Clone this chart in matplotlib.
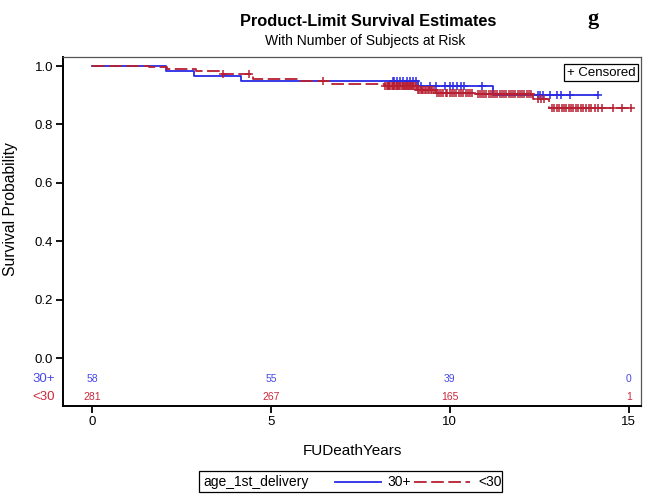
import numpy as np
import matplotlib
matplotlib.use('Agg')
import matplotlib.pyplot as plt
from matplotlib.lines import Line2D
from matplotlib.patches import Rectangle

plt.rcParams.update({'font.family': ['Liberation Sans', 'DejaVu Sans']})

# Kaplan-Meier step curves (time in years, survival)
old_t = [0.0, 2.07, 2.85, 4.16, 9.10, 11.20]
old_s = [1.0, 0.983, 0.966, 0.948, 0.930, 0.900]
old_end = 14.13
old_cens = [8.41, 8.45, 8.52, 8.60, 8.70, 8.80, 8.88, 8.97, 9.05,
            9.20, 9.44, 9.60, 9.86, 10.00, 10.10, 10.20, 10.30, 10.40, 10.90,
            12.46, 12.51, 12.60, 12.80, 12.99, 13.10, 13.35, 14.13]

young_t = [0.0, 1.60, 2.10, 2.90, 3.60, 4.50, 5.80, 6.70, 8.20, 9.07, 9.60,
           10.74, 12.33, 12.77]
young_s = [1.0, 0.996, 0.990, 0.983, 0.974, 0.954, 0.948, 0.938, 0.930, 0.917,
           0.909, 0.903, 0.886, 0.858]
young_end = 15.07
young_cens = [3.65, 4.40, 6.45,
              8.20, 8.23, 8.26, 8.29, 8.31, 8.34, 8.37, 8.40, 8.42, 8.45, 8.48,
              8.51, 8.53, 8.56, 8.59, 8.62, 8.65, 8.68, 8.71, 8.74, 8.77, 8.80,
              8.83, 8.86, 8.89, 8.92, 8.95, 8.98, 9.01, 9.04,
              9.10, 9.14, 9.18, 9.22, 9.26, 9.30, 9.34, 9.38, 9.42, 9.46, 9.50, 9.55,
              9.65, 9.70, 9.76, 9.82, 9.88, 9.93, 9.99, 10.05, 10.12, 10.18, 10.25,
              10.31, 10.38, 10.44, 10.50, 10.57, 10.63,
              10.78, 10.84, 10.90, 10.96, 11.02, 11.08, 11.14, 11.20, 11.27, 11.33,
              11.40, 11.46, 11.52, 11.58, 11.64, 11.70, 11.77, 11.83, 11.90, 11.96,
              12.02, 12.08, 12.15, 12.21, 12.28,
              12.45, 12.55, 12.62,
              12.85, 12.92, 12.98, 13.05, 13.12, 13.18, 13.25, 13.32, 13.38, 13.45,
              13.52, 13.58, 13.65, 13.72, 13.80, 13.88, 13.95, 14.05, 14.15, 14.25,
              14.55, 14.80, 15.07]

# number at risk table
risk_x = [0, 5, 10, 15]
old_risk = [58, 55, 39, 0]
young_risk = [281, 267, 165, 1]

blue = '#2a2ae6'
red = '#b81f32'
blue_txt = '#4848e8'
red_txt = '#c8283c'
dash = (0, (7, 2.5))

W, H = 646, 494
fig = plt.figure(figsize=(W / 100, H / 100), dpi=100)
ax = fig.add_axes([63 / W, 1 - 406 / H, (641 - 63) / W, (406 - 57) / H])


def km(ax, t, s, end, cens, color, ls, z):
    ax.step(t + [end], s + [s[-1]], where='post', color=color,
            linewidth=1.3, linestyle=ls, zorder=z)
    idx = np.searchsorted(t, cens, side='right') - 1
    ax.plot(cens, np.array(s)[idx], linestyle='none', marker='+',
            markersize=6, markeredgewidth=1.1, color=color, zorder=z)


km(ax, old_t, old_s, old_end, old_cens, blue, '-', 3)
km(ax, young_t, young_s, young_end, young_cens, red, dash, 4)

ax.set_xlim(-0.81, 15.34)
ax.set_ylim(-0.164, 1.031)
ax.set_xticks(risk_x)
ax.set_yticks(np.linspace(0, 1, 6))
ax.set_yticklabels(['%.1f' % v for v in np.linspace(0, 1, 6)])
ax.tick_params(direction='out', length=5, width=1.3, labelsize=9.5, pad=2)
for side in ['left', 'bottom']:
    ax.spines[side].set_linewidth(1.4)
    ax.spines[side].set_color('black')
for side in ['top', 'right']:
    ax.spines[side].set_linewidth(0.9)
    ax.spines[side].set_color('#555555')

# at-risk rows
for x, a, b in zip(risk_x, old_risk, young_risk):
    ax.text(x, -0.072, str(a), ha='center', va='center', fontsize=7.5, color=blue_txt)
    ax.text(x, -0.134, str(b), ha='center', va='center', fontsize=7.5, color=red_txt)
ax.annotate('30+', xy=(0, -0.072), xycoords=('axes fraction', 'data'),
            xytext=(-6, 0), textcoords='offset points', ha='right', va='center',
            fontsize=9.5, color=blue_txt)
ax.annotate('<30', xy=(0, -0.134), xycoords=('axes fraction', 'data'),
            xytext=(-6, 0), textcoords='offset points', ha='right', va='center',
            fontsize=9.5, color=red_txt)

# censored key
ax.text(0.99, 0.972, '+ Censored', transform=ax.transAxes, ha='right', va='top',
        fontsize=9.5, bbox=dict(facecolor='white', edgecolor='black', linewidth=0.9,
                                boxstyle='square,pad=0.2'))

# titles and labels
fig.text(368 / W, 1 - 21 / H, 'Product-Limit Survival Estimates', ha='center',
         va='center', fontsize=11.8, fontweight='bold')
fig.text(365 / W, 1 - 41 / H, 'With Number of Subjects at Risk', ha='center',
         va='center', fontsize=10)
fig.text(593 / W, 1 - 19 / H, 'g', ha='center', va='center', fontsize=16,
         fontweight='bold', family='Liberation Serif')
fig.text(11 / W, 1 - 209 / H, 'Survival Probability', rotation=90, ha='center',
         va='center', fontsize=11.3)
fig.text(352 / W, 1 - 451 / H, 'FUDeathYears', ha='center', va='center', fontsize=11)

# group legend
fig.patches.append(Rectangle((199 / W, 1 - 492 / H), (502 - 199) / W, 21 / H,
                             transform=fig.transFigure, facecolor='white',
                             edgecolor='black', linewidth=0.9))
fig.text(203 / W, 1 - 481.5 / H, 'age_1st_delivery', ha='left', va='center', fontsize=10)
fig.lines.append(Line2D([335 / W, 381 / W], [1 - 481.5 / H] * 2, transform=fig.transFigure,
                        color=blue, linewidth=1.3))
fig.text(387 / W, 1 - 481.5 / H, '30+', ha='left', va='center', fontsize=10)
fig.lines.append(Line2D([414 / W, 470 / W], [1 - 481.5 / H] * 2, transform=fig.transFigure,
                        color=red, linewidth=1.3, linestyle=dash))
fig.text(478 / W, 1 - 481.5 / H, '<30', ha='left', va='center', fontsize=10)

fig.savefig('out.png', dpi=100)
